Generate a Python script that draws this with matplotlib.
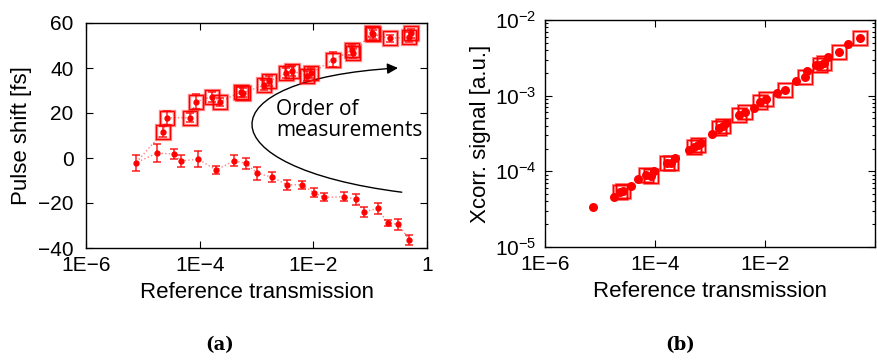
import numpy as np
import matplotlib
matplotlib.use("Agg")
import matplotlib.pyplot as plt
from matplotlib.path import Path
from matplotlib.patches import FancyArrowPatch

plt.rcParams['font.family'] = ['Liberation Sans', 'DejaVu Sans']
plt.rcParams['mathtext.fontset'] = 'custom'
plt.rcParams['mathtext.rm'] = 'Liberation Sans'
plt.rcParams['mathtext.it'] = 'Liberation Sans:italic'

# ---------------- data: panel (a) ----------------
# first pass (decreasing transmission)
down_T = [7.59e-6, 1.76e-5, 3.54e-5, 4.76e-5, 9.48e-5, 1.95e-4, 4.08e-4, 6.49e-4,
          1.04e-3, 1.91e-3, 3.41e-3, 6.28e-3, 1.03e-2, 1.55e-2, 3.48e-2, 5.60e-2,
          7.94e-2, 0.136, 0.202, 0.315, 0.492]
down_shift = [-2.1, 2.1, 1.8, -1.2, -0.6, -5.3, -1.2, -2.4, -6.8, -8.6, -11.9,
              -11.9, -15.4, -17.5, -17.2, -18.4, -23.9, -22.4, -28.8, -29.5, -36.4]
down_err = [3.5, 4.0, 2.2, 2.6, 3.6, 1.9, 2.4, 2.5, 3.0, 2.2, 2.2, 1.7, 2.1, 1.8,
            2.0, 2.3, 2.2, 2.4, 1.4, 2.4, 2.2]

# second pass (increasing transmission)
up_T = [2.30e-5, 2.64e-5, 6.78e-5, 8.53e-5, 1.63e-4, 2.29e-4, 5.36e-4, 5.87e-4,
        1.38e-3, 1.69e-3, 3.28e-3, 4.18e-3, 7.87e-3, 9.04e-3, 2.20e-2, 4.88e-2,
        5.08e-2, 0.107, 0.111, 0.219, 0.492, 0.527]
up_shift = [11.7, 17.9, 17.9, 25.0, 27.3, 25.0, 29.5, 29.0, 32.4, 34.2, 37.6, 38.7,
            36.6, 37.6, 43.6, 48.0, 46.8, 55.7, 55.0, 53.2, 53.6, 55.4]
up_err = [2.4, 3.2, 2.0, 3.4, 2.2, 1.7, 2.2, 2.0, 2.2, 2.2, 2.2, 2.1, 2.2, 2.2,
          3.3, 2.2, 2.2, 1.9, 1.9, 1.5, 2.2, 2.0]

# ---------------- data: panel (b) ----------------
xc_T = [7.48e-6, 1.77e-5, 2.28e-5, 2.61e-5, 3.61e-5, 4.82e-5, 6.93e-5, 8.30e-5,
        9.79e-5, 1.64e-4, 1.96e-4, 2.32e-4, 4.21e-4, 5.19e-4, 6.12e-4, 6.85e-4,
        1.07e-3, 1.47e-3, 1.69e-3, 1.95e-3, 3.38e-3, 4.35e-3, 6.40e-3, 8.02e-3,
        1.03e-2, 1.63e-2, 2.28e-2, 3.69e-2, 5.30e-2, 5.83e-2, 8.49e-2, 0.102,
        0.117, 0.140, 0.218, 0.322, 0.524]
xc_sig = [3.41e-5, 4.62e-5, 5.38e-5, 5.50e-5, 6.34e-5, 7.85e-5, 8.95e-5, 8.75e-5,
          1.02e-4, 1.30e-4, 1.30e-4, 1.49e-4, 1.91e-4, 2.08e-4, 2.23e-4, 2.39e-4,
          3.08e-4, 3.71e-4, 4.01e-4, 4.40e-4, 5.56e-4, 6.14e-4, 6.81e-4, 8.32e-4,
          8.95e-4, 1.07e-3, 1.19e-3, 1.58e-3, 1.78e-3, 2.14e-3, 2.54e-3, 2.54e-3,
          2.73e-3, 3.27e-3, 3.81e-3, 4.82e-3, 5.83e-3]
# points of the second pass (marked with squares)
xc_up_T = [2.28e-5, 2.61e-5, 6.93e-5, 8.30e-5, 1.64e-4, 1.96e-4, 5.19e-4, 6.12e-4,
           1.47e-3, 1.69e-3, 3.38e-3, 4.35e-3, 8.02e-3, 1.03e-2, 2.28e-2, 5.30e-2,
           0.102, 0.117, 0.218, 0.524]
xc_up_sig = [5.38e-5, 5.50e-5, 8.95e-5, 8.75e-5, 1.30e-4, 1.30e-4, 2.08e-4, 2.23e-4,
             3.71e-4, 4.01e-4, 5.56e-4, 6.14e-4, 8.32e-4, 8.95e-4, 1.19e-3, 1.78e-3,
             2.54e-3, 2.73e-3, 3.81e-3, 5.83e-3]

x_ticks = [1e-6, 1e-4, 1e-2, 1]
x_labels_a = ['1E\u22126', '1E\u22124', '1E\u22122', '1']
x_labels_b = ['1E\u22126', '1E\u22124', '1E\u22122', '']
y_ticks_a = [-40, -20, 0, 20, 40, 60]

RED = '#ff0000'
TICK_FS = 15
LABEL_FS = 16

fig = plt.figure(figsize=(8.77, 3.6), dpi=100)
ax1 = fig.add_axes([86 / 877, 112 / 360, 341 / 877, 225 / 360])
ax2 = fig.add_axes([545 / 877, 113 / 360, 330 / 877, 227 / 360])

for ax in (ax1, ax2):
    ax.set_xscale('log')
    ax.tick_params(which='both', direction='in', top=True, right=True,
                   labelsize=TICK_FS, width=0.8)
    ax.tick_params(which='major', length=5)
    ax.tick_params(which='minor', length=2.5)
    ax.tick_params(axis='x', which='major', pad=6)
    for s in ax.spines.values():
        s.set_linewidth(1.0)
ax1.tick_params(axis='y', which='major', pad=9)
ax2.tick_params(axis='y', which='major', pad=6)

# ---------------- panel (a) ----------------
# dotted connection in order of measurement
path_T = list(down_T[::-1]) + list(up_T)
path_S = list(down_shift[::-1]) + list(up_shift)
ax1.plot(path_T, path_S, ':', color=(1, 0.5, 0.5), lw=1.0, zorder=1)

ax1.errorbar(down_T, down_shift, yerr=down_err, fmt='o', color=RED, ms=3.5,
             ecolor=(1, 0, 0, 0.75), elinewidth=1.3, capsize=3, capthick=1.3, zorder=3)
ax1.plot(up_T, up_shift, 's', mfc='none', mec=(1, 0, 0, 0.45), ms=10.5, mew=2.4, zorder=2)
ax1.plot(up_T, up_shift, 's', mfc='none', mec=RED, ms=10.5, mew=0.9, zorder=2)
ax1.errorbar(up_T, up_shift, yerr=up_err, fmt='o', color=RED, ms=3.5,
             ecolor=(1, 0, 0, 0.75), elinewidth=1.3, capsize=3, capthick=1.3, zorder=3)

ax1.set_xlim(1e-6, 1)
ax1.set_ylim(-40, 60)
ax1.set_xticks(x_ticks)
ax1.set_xticklabels(x_labels_a)
ax1.xaxis.set_minor_locator(matplotlib.ticker.NullLocator())
ax1.set_yticks(y_ticks_a)
ax1.set_yticklabels([str(v).replace('-', '\u2212') for v in y_ticks_a])
ax1.set_xlabel('Reference transmission', fontsize=LABEL_FS, labelpad=5)
ax1.set_ylabel('Pulse shift [fs]', fontsize=LABEL_FS, labelpad=4)

# curved arrow "Order of measurements"
verts = [(0.926, 0.248), (0.343, 0.36), (0.343, 0.75), (0.915, 0.80)]
codes = [Path.MOVETO, Path.CURVE4, Path.CURVE4, Path.CURVE4]
arrow = FancyArrowPatch(path=Path(verts, codes), arrowstyle='-|>', mutation_scale=16,
                        color='black', lw=1.0, transform=ax1.transAxes)
ax1.add_patch(arrow)
ax1.text(0.557, 0.57, 'Order of\nmeasurements', transform=ax1.transAxes,
         fontsize=15, family=['Open Sans', 'DejaVu Sans'], ha='left', va='center',
         linespacing=1.0)

# ---------------- panel (b) ----------------
ax2.set_yscale('log')
ax2.plot(xc_up_T, xc_up_sig, 's', mfc='none', mec=(1, 0, 0, 0.45), ms=10.5, mew=2.2, zorder=2)
ax2.plot(xc_up_T, xc_up_sig, 's', mfc='none', mec=RED, ms=10.5, mew=0.9, zorder=2)
ax2.plot(xc_T, xc_sig, 'o', color=RED, ms=6.5, mew=0, zorder=3)
ax2.set_xlim(1e-6, 1)
ax2.set_ylim(1e-5, 1e-2)
ax2.set_xticks(x_ticks)
ax2.set_xticklabels(x_labels_b)
ax2.xaxis.set_minor_locator(matplotlib.ticker.NullLocator())
ax2.set_yticks([1e-5, 1e-4, 1e-3, 1e-2])
ax2.set_yticklabels([r'$10^{-5}$', r'$10^{-4}$', r'$10^{-3}$', r'$10^{-2}$'])
ax2.set_xlabel('Reference transmission', fontsize=LABEL_FS, labelpad=5)
ax2.set_ylabel('Xcorr. signal [a.u.]', fontsize=LABEL_FS, labelpad=3)

# captions
fig.text(220 / 877, 1 - 345 / 360, '(a)', fontsize=13, fontweight='bold',
         family=['DejaVu Serif'], ha='center', va='center')
fig.text(680 / 877, 1 - 345 / 360, '(b)', fontsize=13, fontweight='bold',
         family=['DejaVu Serif'], ha='center', va='center')

fig.savefig('out.png', dpi=100)
